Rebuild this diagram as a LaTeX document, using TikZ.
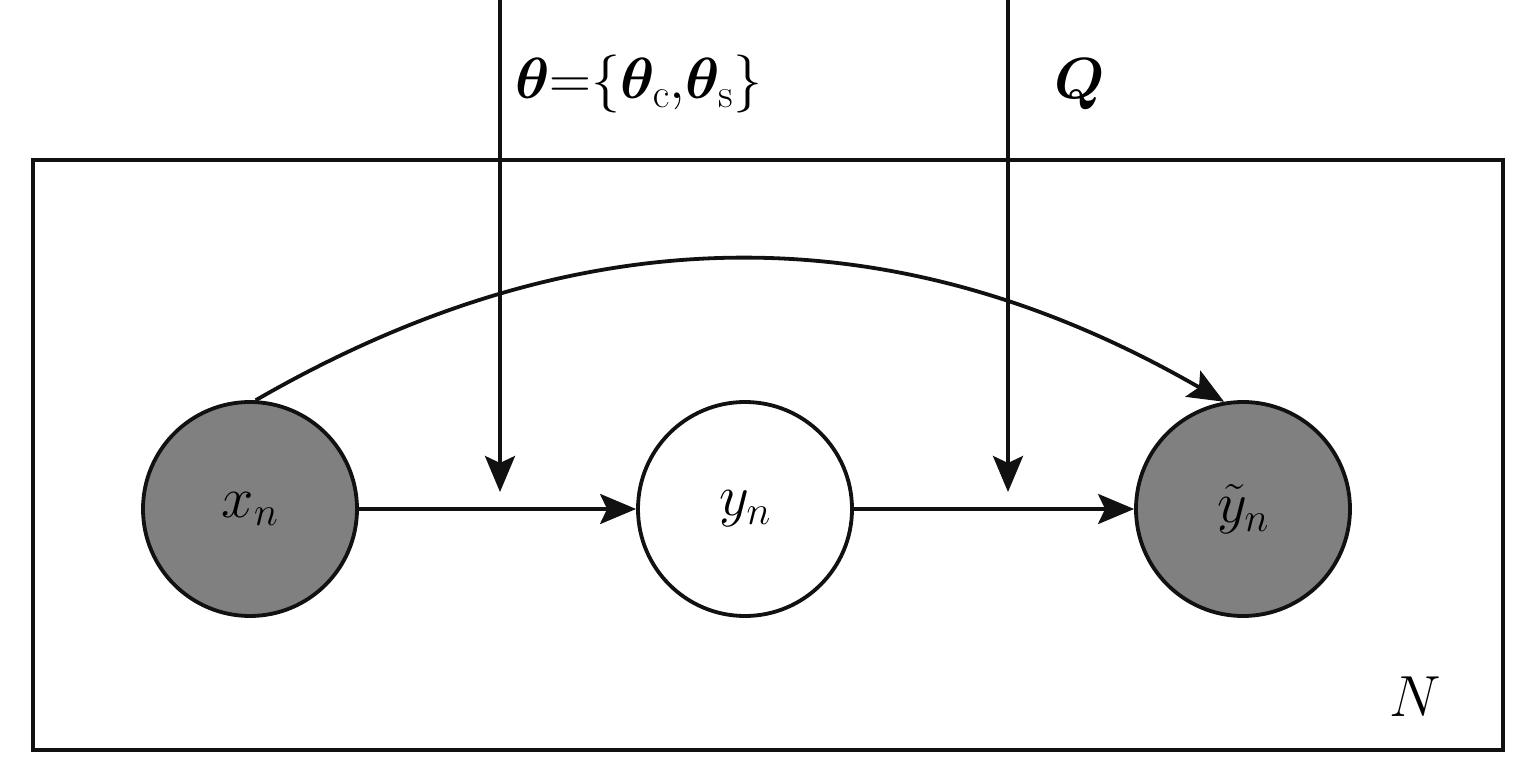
\RequirePackage{fix-cm}
\documentclass[tikz,border=0pt]{standalone}
\usepackage{bm}
\usetikzlibrary{arrows.meta}
\begin{document}
\begin{tikzpicture}[x=1pt,y=1pt,
  var/.style={circle,draw=drawColor,line width=3.8pt,minimum size=214pt,inner sep=0pt,
    font=\fontsize{58}{70}\selectfont},
  obs/.style={var,fill=obsColor},
  lbl/.style={inner sep=0pt,outer sep=0pt,font=\fontsize{58}{70}\selectfont},
  edge/.style={draw=drawColor,line width=3.8pt,-{Stealth[length=36pt,width=30pt,inset=7pt]}}]
\definecolor{fillColor}{RGB}{255,255,255}
\definecolor{drawColor}{RGB}{17,17,17}
\definecolor{obsColor}{RGB}{128,128,128}
\path[use as bounding box,fill=fillColor] (0,0) rectangle (1535,756);

% plate
\path[draw=drawColor,line width= 4.2pt] ( 33.00,  6.00) rectangle (1503.00,596.00);
\node[lbl] (plN) at (1415.00, 59.00) {$N$};

% nodes
\node[obs] (xn) at ( 250.00,247.00) {$x_n$};
\node[var] (yn) at ( 745.00,247.00) {$y_n$};
\node[obs] (yt) at (1243.00,247.00) {$\tilde{y}_n$};

% parameters
\coordinate (thTop) at ( 500.00,756.00);
\coordinate (thEnd) at ( 500.00,264.00);
\coordinate (qTop)  at (1008.00,756.00);
\coordinate (qEnd)  at (1008.00,264.00);
\node[lbl,anchor=west] (th) at ( 515.00,672.00) {$\bm{\theta}{=}\{\bm{\theta}_{\mathrm{c}}{,}\bm{\theta}_{\mathrm{s}}\}$};
\node[lbl] (q) at (1080.00,672.00) {$\bm{Q}$};

% edges
\path[edge] (thTop) -- (thEnd);
\path[edge] (qTop) -- (qEnd);
\path[edge] (xn) -- (yn);
\path[edge] (yn) -- (yt);
\path[edge] (xn.87) to[out=30,in=150] (yt.100);
\end{tikzpicture}
\end{document}
